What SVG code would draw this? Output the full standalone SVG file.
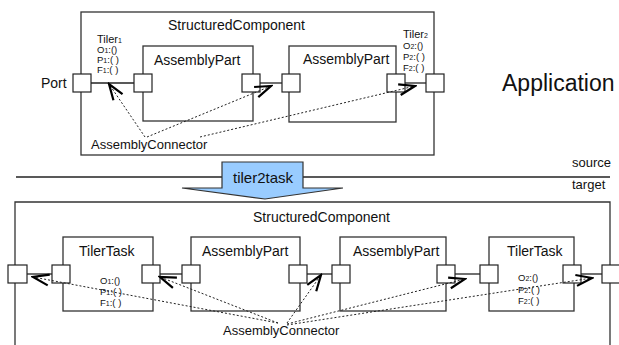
<svg xmlns="http://www.w3.org/2000/svg" width="619" height="345" viewBox="0 0 619 345">
<style>
text{font-family:"Liberation Sans",Arial,sans-serif;fill:#111}
.box{fill:none;stroke:#333;stroke-width:1.3}
.port{fill:#fff;stroke:#222;stroke-width:1.2}
.ln{stroke:#222;stroke-width:1.3;fill:none}
.dot{stroke:#222;stroke-width:1;stroke-dasharray:2,2;fill:none;marker-end:url(#arr)}
.t14{font-size:14px}
.t13{font-size:13px}
.sm{font-size:9.5px}
.sub{font-size:7px}
</style>
<defs>
<marker id="arr" markerUnits="userSpaceOnUse" markerWidth="19" markerHeight="14" refX="17" refY="7" orient="auto" viewBox="0 0 19 14">
<path d="M1,1.5 L17,7 L1,12.5" fill="none" stroke="#000" stroke-width="2.2"/>
</marker>
</defs>
<rect width="619" height="345" fill="#fff"/>

<!-- top section -->
<g id="top-component">
<rect class="box" x="81" y="12" width="353" height="143"/>
<text class="t14" x="168" y="30">StructuredComponent</text>
</g>
<g id="top-port">
<rect class="port" x="73" y="74" width="18" height="18"/>
<text class="t14" x="41" y="88">Port</text>
</g>
<g id="tiler1">
<text x="97" y="43" font-size="11">Tiler<tspan class="sub">1</tspan></text>
<text class="sm" x="97" y="53">O<tspan class="sub">1</tspan>:()</text>
<text class="sm" x="97" y="63">P<tspan class="sub">1</tspan>:( )</text>
<text class="sm" x="97" y="73">F<tspan class="sub">1</tspan>:( )</text>
</g>
<g id="top-part1">
<rect class="box" x="143" y="46" width="110" height="75"/>
<text class="t14" x="154" y="65">AssemblyPart</text>
<rect class="port" x="134" y="74" width="18" height="18"/>
<rect class="port" x="242" y="74" width="18" height="18"/>
</g>
<g id="top-part2">
<rect class="box" x="289" y="46" width="107" height="76"/>
<text class="t14" x="303" y="64">AssemblyPart</text>
<rect class="port" x="282" y="74" width="18" height="18"/>
<rect class="port" x="387" y="74" width="18" height="18"/>
</g>
<g id="tiler2">
<rect class="port" x="426" y="74" width="18" height="18"/>
<text x="403" y="38" font-size="11">Tiler<tspan class="sub">2</tspan></text>
<text class="sm" x="403" y="49">O<tspan class="sub">2</tspan>:()</text>
<text class="sm" x="403" y="60">P<tspan class="sub">2</tspan>:( )</text>
<text class="sm" x="403" y="71">F<tspan class="sub">2</tspan>:( )</text>
</g>
<g id="top-connector-label">
<text class="t13" x="91" y="149">AssemblyConnector</text>
</g>
<g id="application-label">
<text x="502" y="91" font-size="23">Application</text>
</g>

<!-- divider -->
<g id="divider">
<line class="ln" x1="16" y1="177" x2="610" y2="177"/>
<text class="t13" x="572" y="167">source</text>
<text class="t13" x="572" y="189">target</text>
</g>
<g id="tiler2task">
<path d="M222,162 H303 V188 H343 L265,199 L182,188 H222 Z" fill="#99ccff" stroke="#333" stroke-width="1.2"/>
<text x="233" y="183" font-size="15">tiler2task</text>
</g>

<!-- bottom section -->
<g id="bottom-component">
<path class="box" d="M15,350 V202 H610 V350"/>
<text class="t14" x="253" y="222">StructuredComponent</text>
</g>
<g id="bottom-port-left">
<rect class="port" x="8" y="265" width="19" height="18"/>
</g>
<g id="tilertask1">
<rect class="box" x="63" y="237" width="90" height="74"/>
<text class="t14" x="79" y="256">TilerTask</text>
<rect class="port" x="52" y="265" width="18" height="18"/>
<rect class="port" x="142" y="265" width="18" height="18"/>
<text class="sm" x="100" y="284">O<tspan class="sub">1</tspan>:()</text>
<text class="sm" x="100" y="295">P<tspan class="sub">1</tspan>:( )</text>
<text class="sm" x="100" y="306">F<tspan class="sub">1</tspan>:( )</text>
</g>
<g id="bottom-part1">
<rect class="box" x="191" y="237" width="109" height="74"/>
<text class="t14" x="202" y="256">AssemblyPart</text>
<rect class="port" x="182" y="265" width="18" height="18"/>
<rect class="port" x="289" y="265" width="18" height="18"/>
</g>
<g id="bottom-part2">
<rect class="box" x="340" y="237" width="106" height="74"/>
<text class="t14" x="353" y="256">AssemblyPart</text>
<rect class="port" x="332" y="265" width="18" height="18"/>
<rect class="port" x="437" y="265" width="18" height="18"/>
</g>
<g id="tilertask2">
<rect class="box" x="489" y="237" width="85" height="74"/>
<text class="t14" x="507" y="256">TilerTask</text>
<rect class="port" x="480" y="265" width="18" height="18"/>
<rect class="port" x="563" y="265" width="18" height="18"/>
<text class="sm" x="518" y="281">O<tspan class="sub">2</tspan>:()</text>
<text class="sm" x="518" y="293">P<tspan class="sub">2</tspan>:( )</text>
<text class="sm" x="518" y="304">F<tspan class="sub">2</tspan>:( )</text>
</g>
<g id="bottom-port-right">
<rect class="port" x="602" y="265" width="18" height="18"/>
</g>
<g id="bottom-connector-label">
<text class="t13" x="223" y="335">AssemblyConnector</text>
</g>

<g id="connectors">
<line class="ln" x1="91" y1="83" x2="134" y2="83"/>
<line class="ln" x1="260" y1="83" x2="282" y2="83"/>
<line class="ln" x1="405" y1="83" x2="426" y2="83"/>
<line class="dot" x1="145" y1="137" x2="109" y2="84"/>
<line class="dot" x1="147" y1="137" x2="271" y2="86"/>
<line class="dot" x1="200" y1="137" x2="415" y2="86"/>

<line class="ln" x1="27" y1="274" x2="52" y2="274"/>
<line class="ln" x1="160" y1="274" x2="182" y2="274"/>
<line class="ln" x1="307" y1="274" x2="332" y2="274"/>
<line class="ln" x1="455" y1="274" x2="480" y2="274"/>
<line class="ln" x1="581" y1="274" x2="602" y2="274"/>
<line class="dot" x1="278" y1="323" x2="33" y2="277"/>
<line class="dot" x1="278" y1="323" x2="160" y2="277"/>
<line class="dot" x1="287" y1="323" x2="321" y2="275"/>
<line class="dot" x1="287" y1="324" x2="465" y2="279"/>
<line class="dot" x1="287" y1="325" x2="592" y2="278"/>
</g>
</svg>
